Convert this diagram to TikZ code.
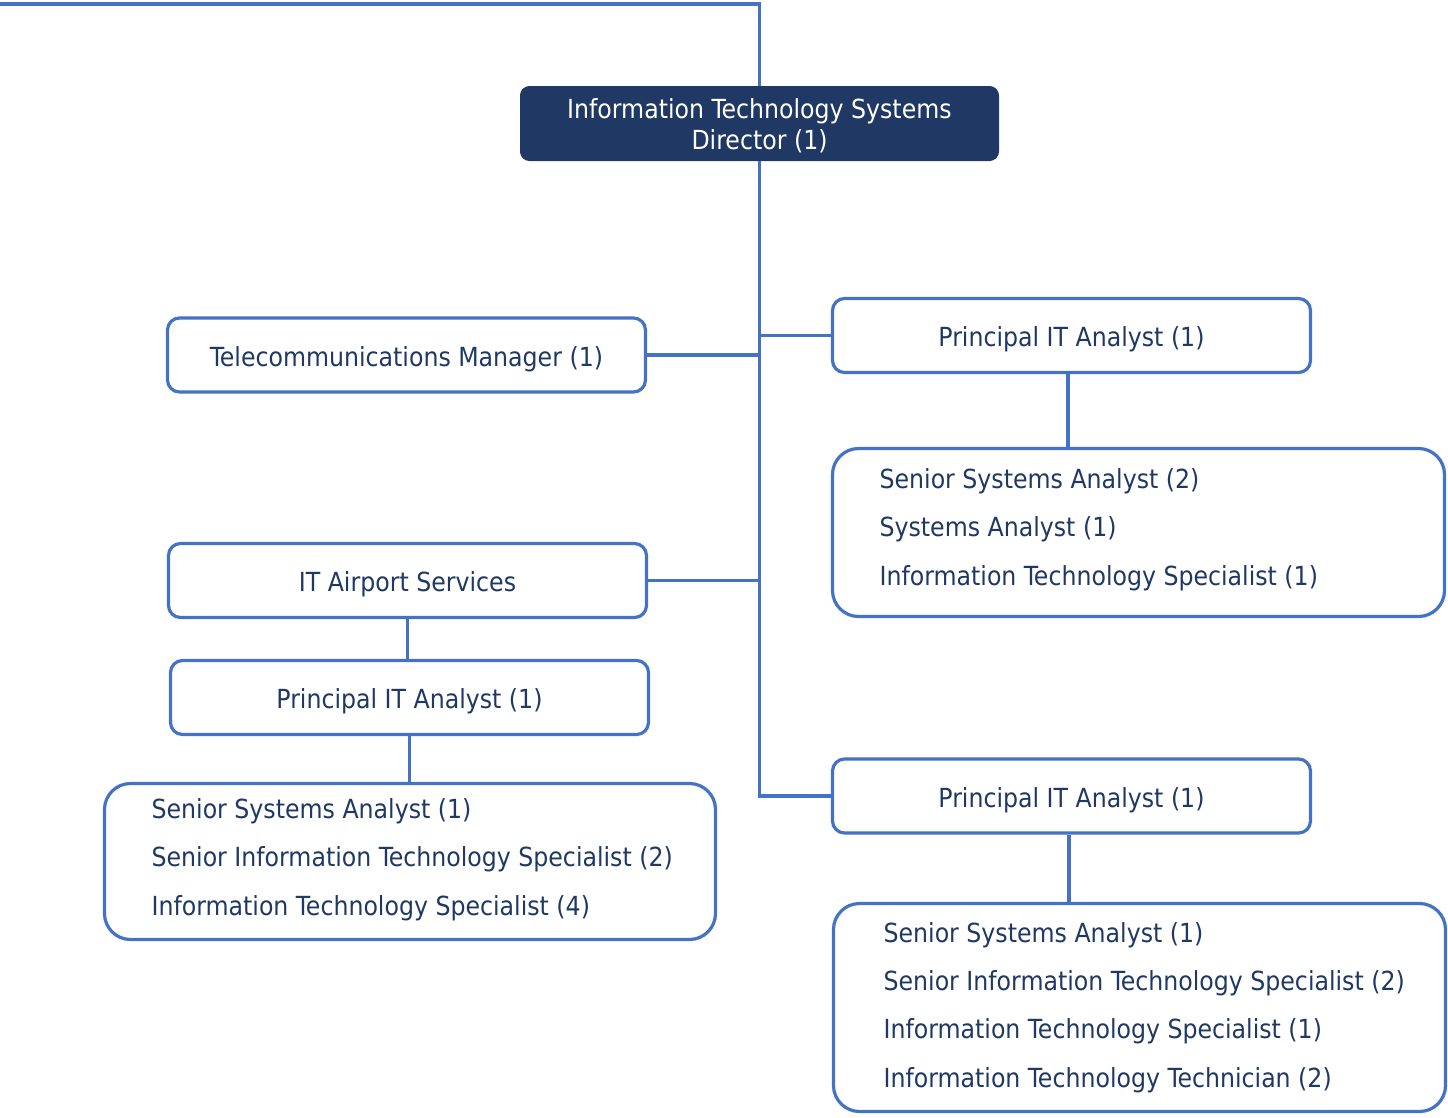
\documentclass[tikz,border=0pt]{standalone}
\usepackage{fontspec}
\setmainfont{DejaVu Sans Condensed}
\usetikzlibrary{positioning}
\definecolor{linkblue}{HTML}{4472C4}
\definecolor{navy}{HTML}{203864}
\definecolor{inktext}{HTML}{1F3864}
\begin{document}
\begin{tikzpicture}[x=1pt,y=-1pt,
  conn/.style={draw=linkblue,line width=3.2pt},
  headbox/.style={draw=navy,fill=navy,line width=1pt,rounded corners=9pt,
    minimum width=478pt,minimum height=74pt},
  headtext/.style={text=white,align=center,inner sep=0pt,
    font=\fontsize{26.3}{31.5}\selectfont},
  rolebox/.style={draw=linkblue,line width=3.2pt,rounded corners=12pt,text=inktext,
    align=center,inner sep=0pt,minimum width=478pt,minimum height=74pt,
    text height=22pt,text depth=0pt,
    font=\fontsize{26.3}{31}\selectfont},
  listbox/.style={draw=linkblue,line width=3.2pt,rounded corners=26pt,minimum width=612pt},
  listtext/.style={text=inktext,align=left,inner sep=0pt,anchor=west,
    font=\fontsize{26.3}{48.3}\selectfont}
]
\useasboundingbox (0,0) rectangle (1448,1117);

% head of the unit
\node[headbox] (dir) at (759.5,123.5) {};
\node[headtext] (dirt) at ([yshift=-2pt]dir.center)
  {Information Technology Systems\\Director (1)};

% first level
\node[rolebox] (tm) at (406.5,355) {Telecommunications Manager (1)};
\node[rolebox] (pa) at (1071.5,335.5) {Principal IT Analyst (1)};
\node[rolebox] (ia) at (407.5,580.5) {IT Airport Services};
\node[rolebox] (pb) at (1071.5,796) {Principal IT Analyst (1)};

% second level
\node[rolebox] (pl) at (409.5,697.5) {Principal IT Analyst (1)};

% staff lists
\node[listbox,minimum height=168pt] (s1) at (1138.5,532.5) {};
\node[listtext] (s1t) at ([xshift=48.5pt,yshift=3pt]s1.west)
  {Senior Systems Analyst (2)\\Systems Analyst (1)\\Information Technology Specialist (1)};
\node[listbox,minimum width=611pt,minimum height=156pt] (s2) at (410,861.5) {};
\node[listtext] (s2t) at ([xshift=48.5pt,yshift=2pt]s2.west)
  {Senior Systems Analyst (1)\\Senior Information Technology Specialist (2)\\Information Technology Specialist (4)};
\node[listbox,minimum height=208pt] (s3) at (1139.5,1007.5) {};
\node[listtext] (s3t) at ([xshift=51.5pt]s3.west)
  {Senior Systems Analyst (1)\\Senior Information Technology Specialist (2)\\Information Technology Specialist (1)\\Information Technology Technician (2)};

% incoming line from the upper level
\coordinate (up) at (0,4);
\draw[conn] (up) -| (dir.north);

% spine and branches
\draw[conn] (dir.south) |- (pb.west);
\draw[conn] (tm.east) -- (tm.east -| dir.south);
\draw[conn] (pa.west) -- (pa.west -| dir.south);
\draw[conn] (ia.east) -- (ia.east -| dir.south);
\draw[conn] ([xshift=-3.5pt]pa.south) -- ([xshift=-3.5pt]pa.south |- s1.north);
\draw[conn] (ia.south) -- (ia.south |- pl.north);
\draw[conn] (pl.south) -- (pl.south |- s2.north);
\draw[conn] ([xshift=-2.5pt]pb.south) -- ([xshift=-2.5pt]pb.south |- s3.north);
\end{tikzpicture}
\end{document}
